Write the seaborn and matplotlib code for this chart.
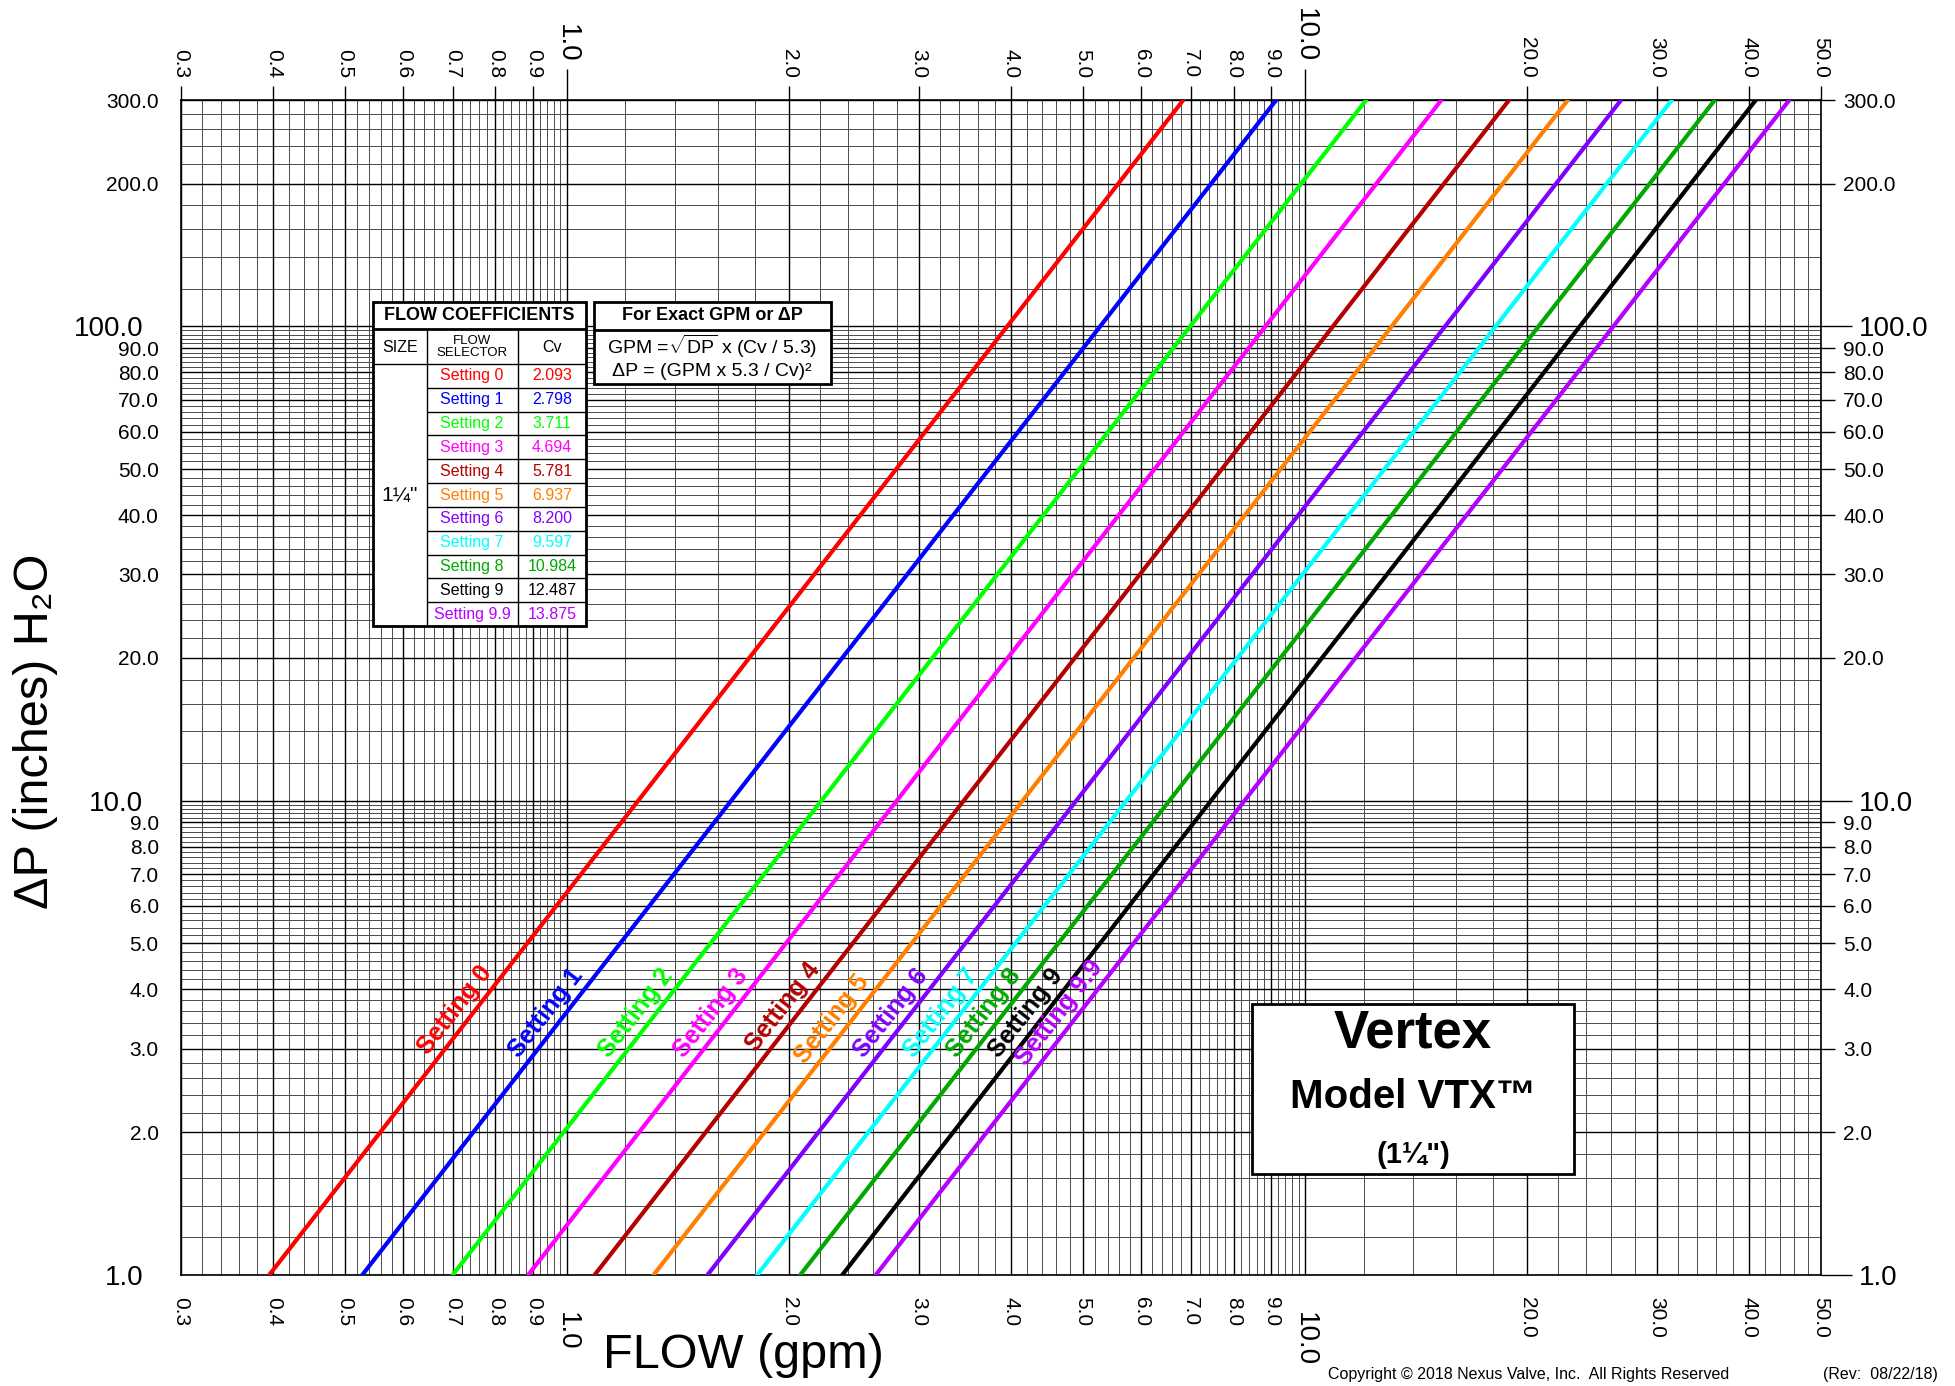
# Vertex VTX 1-1/4" flow chart - pressure drop vs flow, log-log

import numpy as np
import pandas as pd
import matplotlib
matplotlib.use("Agg")
import matplotlib.pyplot as plt
from matplotlib.patches import Rectangle
from matplotlib.lines import Line2D
import seaborn as sns


# ============================================
# Data
# ============================================

settings = ["0", "1", "2", "3", "4", "5", "6", "7", "8", "9", "9.9"]

cv_values = ["2.093", "2.798", "3.711", "4.694", "5.781", "6.937",
             "8.200", "9.597", "10.984", "12.487", "13.875"]

# flow where each line meets dP = 1.0 and dP = 300.0
flow_at_1 = [0.395, 0.528, 0.700, 0.886, 1.09, 1.31, 1.55, 1.81, 2.07, 2.36, 2.62]
flow_at_300 = [6.84, 9.14, 12.1, 15.3, 18.9, 22.7, 26.8, 31.4, 35.9, 40.8, 45.3]

line_colors = ["#ff0000", "#0000ff", "#00ff00", "#ff00ff", "#b40000", "#ff8000",
               "#8000ff", "#00ffff", "#00a800", "#000000", "#b400ff"]

# dP where each "Setting N" label sits
label_dp = [3.45, 3.4, 3.4, 3.4, 3.5, 3.3, 3.4, 3.4, 3.4, 3.4, 3.4]

x_ticks = [0.3, 0.4, 0.5, 0.6, 0.7, 0.8, 0.9, 2, 3, 4, 5, 6, 7, 8, 9, 20, 30, 40, 50]
x_big = [1, 10]
y_ticks = [2, 3, 4, 5, 6, 7, 8, 9, 20, 30, 40, 50, 60, 70, 80, 90, 200, 300]
y_big = [1, 10, 100]


# ============================================
# Figure setup
# ============================================

sns.set_style("white")
plt.rcParams["font.family"] = ["Liberation Sans", "DejaVu Sans"]
plt.rcParams["mathtext.fontset"] = "custom"
plt.rcParams["mathtext.rm"] = "Liberation Sans"
plt.rcParams["text.color"] = "black"
plt.rcParams["xtick.color"] = "black"
plt.rcParams["ytick.color"] = "black"
plt.rcParams["axes.labelcolor"] = "black"

W, H = 1956, 1386
fig = plt.figure(figsize=(W / 100, H / 100), dpi=100)
fig.patch.set_facecolor("white")


def px(x, y):
    # pixel position (from top-left) -> figure fraction
    return x / W, 1 - y / H


ax = fig.add_axes([181 / W, 1 - 1275 / H, (1821 - 181) / W, (1275 - 100) / H])
ax.set_xscale("log")
ax.set_yscale("log")
ax.set_xlim(0.3, 50)
ax.set_ylim(1, 300)


# grid: lines every 1/5 of a tick step in each decade
gx_minor = np.concatenate([np.arange(0.3, 1.0, 0.02), np.arange(1, 10, 0.2), np.arange(10, 50.01, 2)])
gy_minor = np.concatenate([np.arange(1, 10, 0.2), np.arange(10, 100, 2), np.arange(100, 300.1, 20)])
ax.vlines(gx_minor, 1, 300, colors="#4a4a4a", lw=0.7, zorder=1)
ax.hlines(gy_minor, 0.3, 50, colors="#4a4a4a", lw=0.7, zorder=1)
ax.vlines(x_ticks + x_big, 1, 300, colors="black", lw=1.0, zorder=1)
ax.hlines(y_ticks + y_big, 0.3, 50, colors="black", lw=1.0, zorder=1)


# ============================================
# Lines
# ============================================

df = pd.DataFrame({
    "setting": np.repeat(settings, 2),
    "gpm": np.ravel(np.column_stack([flow_at_1, flow_at_300])),
    "dp": [1, 300] * len(settings),
})

sns.lineplot(data=df, x="gpm", y="dp", hue="setting", hue_order=settings,
             palette=dict(zip(settings, line_colors)), lw=3, legend=False,
             sort=False, estimator=None, ax=ax, zorder=3)

ax.set_xlim(0.3, 50)
ax.set_ylim(1, 300)
ax.set_xlabel("")
ax.set_ylabel("")


# ============================================
# Ticks
# ============================================

ax.set_xticks(x_ticks, labels=[f"{v:.1f}" for v in x_ticks])
ax.set_xticks(x_big, labels=[f"{v:.1f}" for v in x_big], minor=True)
ax.set_yticks(y_ticks, labels=[f"{v:.1f}" for v in y_ticks])
ax.set_yticks(y_big, labels=[f"{v:.1f}" for v in y_big], minor=True)

ax.tick_params(which="both", top=True, right=True, labeltop=True, labelright=True,
               direction="out", color="black", labelcolor="black", width=1)
ax.tick_params(which="major", length=10, labelsize=15, pad=6)
ax.tick_params(which="minor", length=22, labelsize=20, pad=5)
ax.tick_params(axis="x", which="both", labelrotation=-90)

for s in ax.spines.values():
    s.set_color("black")
    s.set_linewidth(1.2)


# ============================================
# Setting labels along the lines
# ============================================

p0 = ax.transData.transform((flow_at_1[0], 1))
p1 = ax.transData.transform((flow_at_300[0], 300))
angle = np.degrees(np.arctan2(p1[1] - p0[1], p1[0] - p0[0]))
nx, ny = -np.sin(np.radians(angle)), np.cos(np.radians(angle))

for name, lo, hi, dp, c in zip(settings, flow_at_1, flow_at_300, label_dp, line_colors):
    t = np.log(dp) / np.log(300)
    x = np.exp(np.log(lo) + (np.log(hi) - np.log(lo)) * t)
    ax.annotate("Setting " + name, xy=(x, dp), xytext=(nx * 3, ny * 3),
                textcoords="offset points", rotation=angle, rotation_mode="anchor",
                ha="center", va="bottom", color=c, fontsize=18,
                fontweight="bold", zorder=4)


# ============================================
# Flow coefficient table
# ============================================

def box(x0, y0, x1, y1, lw=1.0, fill=True):
    fig.add_artist(Rectangle(px(x0, y1), (x1 - x0) / W, (y1 - y0) / H,
                             transform=fig.transFigure, facecolor="white" if fill else "none",
                             edgecolor="black", lw=lw, zorder=5))


def hline(x0, x1, y, lw=1.0):
    a, b = px(x0, y), px(x1, y)
    fig.add_artist(Line2D([a[0], b[0]], [a[1], b[1]], transform=fig.transFigure,
                          color="black", lw=lw, zorder=6))


def vline(x, y0, y1, lw=1.0):
    a, b = px(x, y0), px(x, y1)
    fig.add_artist(Line2D([a[0], b[0]], [a[1], b[1]], transform=fig.transFigure,
                          color="black", lw=lw, zorder=6))


def ftext(x, y, s, **kw):
    fig.text(*px(x, y), s, ha="center", va="center", zorder=7, **kw)


tx0, tx1, ty0, ty1 = 373, 586, 302, 626
box(tx0, ty0, tx1, ty1, lw=2)
hline(tx0, tx1, 329, lw=2)
hline(tx0, tx1, 364)
vline(427, 329, ty1)
vline(518, 329, ty1)
ftext((tx0 + tx1) / 2, 316, "FLOW COEFFICIENTS", fontsize=13, fontweight="bold")
ftext(400, 347, "SIZE", fontsize=11.5)
ftext(472, 347, "FLOW\nSELECTOR", fontsize=9.5, linespacing=1.0)
ftext(552, 347, "Cv", fontsize=11.5)
ftext(400, 495, "1¼\"", fontsize=15)

row_h = (ty1 - 364) / len(settings)
for i, (name, cv, c) in enumerate(zip(settings, cv_values, line_colors)):
    yc = 364 + row_h * (i + 0.5)
    if i > 0:
        hline(427, tx1, 364 + row_h * i)
    ftext(472, yc, "Setting " + name, fontsize=11.5, color=c)
    ftext(552, yc, cv, fontsize=11.5, color=c)

# formula box
box(594, 302, 831, 384, lw=2)
hline(594, 831, 330, lw=2)
ftext(712, 316, "For Exact GPM or ΔP", fontsize=13, fontweight="bold")
ftext(712, 346, r"GPM =$\sqrt{\mathrm{DP}}$ x (Cv / 5.3)", fontsize=14)
ftext(712, 371, "ΔP = (GPM x 5.3 / Cv)²", fontsize=14)

# model box
box(1252, 1004, 1574, 1174, lw=2)
ftext(1413, 1033, "Vertex", fontsize=38, fontweight="bold")
ftext(1413, 1097, "Model VTX™", fontsize=29, fontweight="bold")
ftext(1413, 1155, "(1¼\")", fontsize=21, fontweight="bold")


# ============================================
# Axis titles and footer
# ============================================

ftext(743, 1356, "FLOW (gpm)", fontsize=35)
ftext(36, 731, "ΔP (inches) H₂O", fontsize=35, rotation=90)
ftext(1529, 1374, "Copyright © 2018 Nexus Valve, Inc.  All Rights Reserved", fontsize=11.5)
fig.text(*px(1938, 1374), "(Rev:  08/22/18)", ha="right", va="center", fontsize=11.5)

fig.savefig("out.png", dpi=100)
